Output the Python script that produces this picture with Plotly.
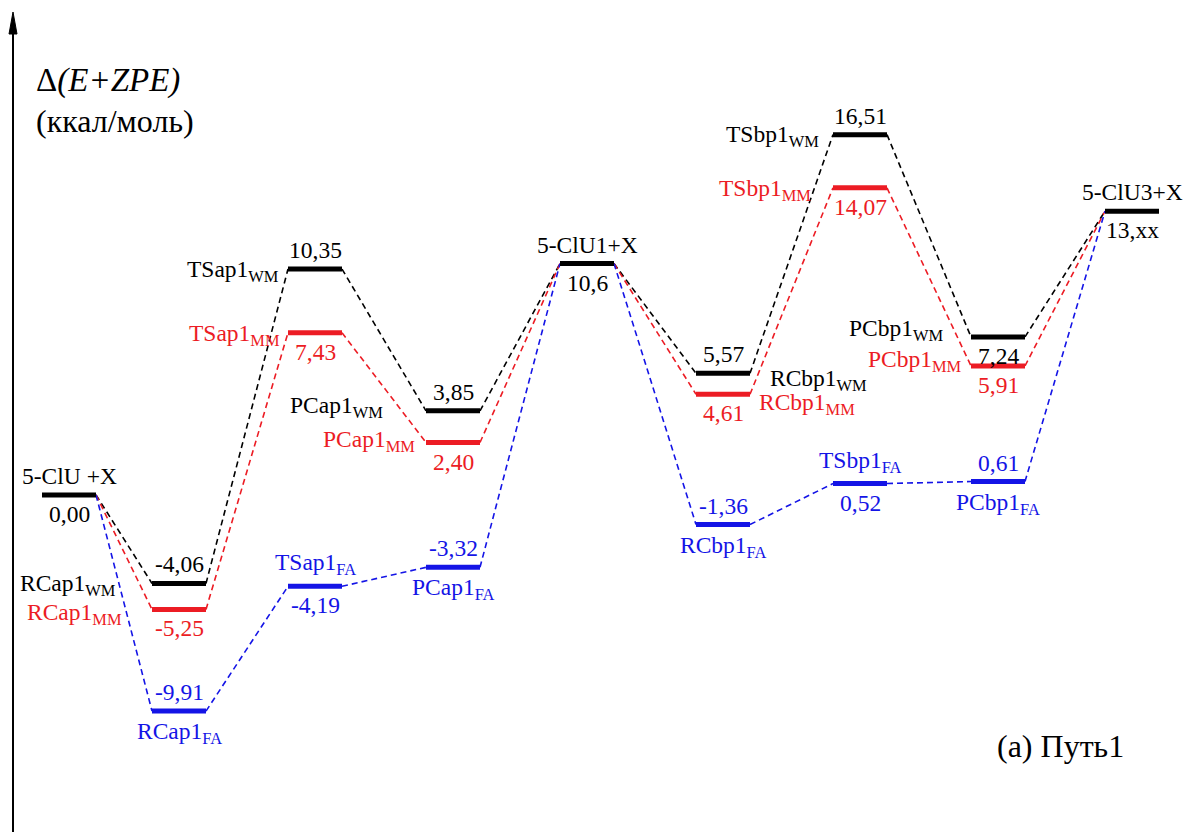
import plotly.graph_objects as go

# Reaction path 1: relative energies Δ(E+ZPE), kcal/mol
states = ["5-ClU +X", "RCap1", "TSap1", "PCap1", "5-ClU1+X",
          "RCbp1", "TSbp1", "PCbp1", "5-ClU3+X"]
energy_wm = [0.00, -4.06, 10.35, 3.85, 10.6, 5.57, 16.51, 7.24, 13.0]
energy_mm = [0.00, -5.25, 7.43, 2.40, 10.6, 4.61, 14.07, 5.91, 13.0]
energy_fa = [0.00, -9.91, -4.19, -3.32, 10.6, -1.36, 0.52, 0.61, 13.0]
shared_value_text = {0: "0,00", 4: "10,6", 8: "13,xx"}
series_names = ["WM", "MM", "FA"]

# ---- layout constants -------------------------------------------------
W, H = 1186, 832
STEP_X = [69, 179, 315, 453, 587, 723, 860, 998, 1132]
HALF = 27
Y_HI, Y_LO = 22.68, -15.45
FONT = "Times New Roman, Liberation Serif, serif"
FS = 23.5
COLORS = {"WM": "#000000", "MM": "#ec1c24", "FA": "#1414e6"}
SHARED = [0, 4, 8]

# label placement per series: step -> (name position, side gap px, shift px) and value position
NAME_POS = {
    "WM": {1: ("left", 34, 2), 2: ("left", 7, 2), 3: ("left", 41, -4),
           5: ("right", 18, 7), 6: ("left", 12, 1), 7: ("left", 25, -7)},
    "MM": {1: ("left", 28, 5), 2: ("left", 6, 2), 3: ("left", 9, -2),
           5: ("right", 7, 10), 6: ("left", 20, 2), 7: ("left", 7, -5)},
    "FA": {1: ("below", 0, 0), 2: ("above", 0, 0), 3: ("below", 0, 0),
           5: ("below", 0, 0), 6: ("above", 0, 0), 7: ("below", 0, 0)},
}
VALUE_POS = {
    "WM": {1: "above", 2: "above", 3: "above", 5: "above", 6: "above", 7: "below"},
    "MM": {1: "below", 2: "below", 3: "below", 5: "below", 6: "below", 7: "below"},
    "FA": {1: "above", 2: "below", 3: "above", 5: "above", 6: "below", 7: "above"},
}

energies = {"WM": energy_wm, "MM": energy_mm, "FA": energy_fa}


def fmt(v):
    return f"{v:.2f}".replace(".", ",")


fig = go.Figure()
annotations = []

# dashed connectors between consecutive levels
for s in series_names:
    e = energies[s]
    for i in range(len(states) - 1):
        fig.add_trace(go.Scatter(
            x=[STEP_X[i] + HALF, STEP_X[i + 1] - HALF], y=[e[i], e[i + 1]],
            mode="lines", line=dict(color=COLORS[s], width=1.6, dash="6px,4px"),
            hoverinfo="skip", showlegend=False))

# energy levels (shared end points drawn once, in black)
for s in ["FA", "MM", "WM"]:
    e = energies[s]
    for i in range(len(states)):
        if i in SHARED and s != "WM":
            continue
        fig.add_trace(go.Scatter(
            x=[STEP_X[i] - HALF, STEP_X[i] + HALF], y=[e[i], e[i]],
            mode="lines", line=dict(color=COLORS[s], width=5),
            hoverinfo="skip", showlegend=False))


def add_label(text, x, y, pos, color, gap=0, shift=0, sub=False):
    a = dict(text=text, x=x, y=y, xref="x", yref="y", showarrow=False,
             font=dict(family=FONT, size=FS, color=color), yanchor="middle")
    if pos == "above":
        a.update(xanchor="center", yshift=(22 if sub else 19))
    elif pos == "below":
        a.update(xanchor="center", yshift=-(22 if sub else 19))
    elif pos == "left":
        a.update(x=x - HALF - gap, xanchor="right", yshift=-shift)
    else:
        a.update(x=x + HALF + gap, xanchor="left", yshift=-shift)
    annotations.append(a)


# shared states
for i in SHARED:
    add_label(states[i], STEP_X[i], energy_wm[i], "above", COLORS["WM"])
    add_label(shared_value_text[i], STEP_X[i], energy_wm[i], "below", COLORS["WM"])

# series-specific states
for s in series_names:
    e = energies[s]
    for i in range(len(states)):
        if i in SHARED:
            continue
        pos, gap, shift = NAME_POS[s][i]
        add_label(f"{states[i]}<sub>{s}</sub>", STEP_X[i], e[i], pos,
                  COLORS[s], gap, shift, sub=True)
        add_label(fmt(e[i]), STEP_X[i], e[i], VALUE_POS[s][i], COLORS[s])

# axis title and panel caption
annotations.append(dict(text="Δ<i>(E+ZPE)</i>", x=34, y=1 - 80 / H, xref="x", yref="paper",
                        xanchor="left", yanchor="middle", showarrow=False,
                        font=dict(family=FONT, size=33, color="black")))
annotations.append(dict(text="(ккал/моль)", x=34, y=1 - 121 / H, xref="x", yref="paper",
                        xanchor="left", yanchor="middle", showarrow=False,
                        font=dict(family=FONT, size=32, color="black")))
annotations.append(dict(text="(a) Путь1", x=1126, y=1 - 746 / H, xref="x", yref="paper",
                        xanchor="right", yanchor="middle", showarrow=False,
                        font=dict(family=FONT, size=32, color="black")))

# energy axis with arrow head
shapes = [
    dict(type="line", xref="x", yref="paper", x0=13, x1=13, y0=0, y1=1 - 28 / H,
         line=dict(color="black", width=2)),
    dict(type="path", xref="x", yref="paper",
         path=f"M 9,{1 - 34 / H} L 13,{1 - 12 / H} L 17,{1 - 34 / H} Z",
         fillcolor="black", line=dict(color="black", width=1)),
]

fig.update_layout(
    width=W, height=H, margin=dict(l=0, r=0, t=0, b=0),
    paper_bgcolor="white", plot_bgcolor="white",
    xaxis=dict(range=[0, W], visible=False, fixedrange=True),
    yaxis=dict(range=[Y_LO, Y_HI], visible=False, fixedrange=True),
    annotations=annotations, shapes=shapes, showlegend=False,
)

fig.write_html("out.html")
